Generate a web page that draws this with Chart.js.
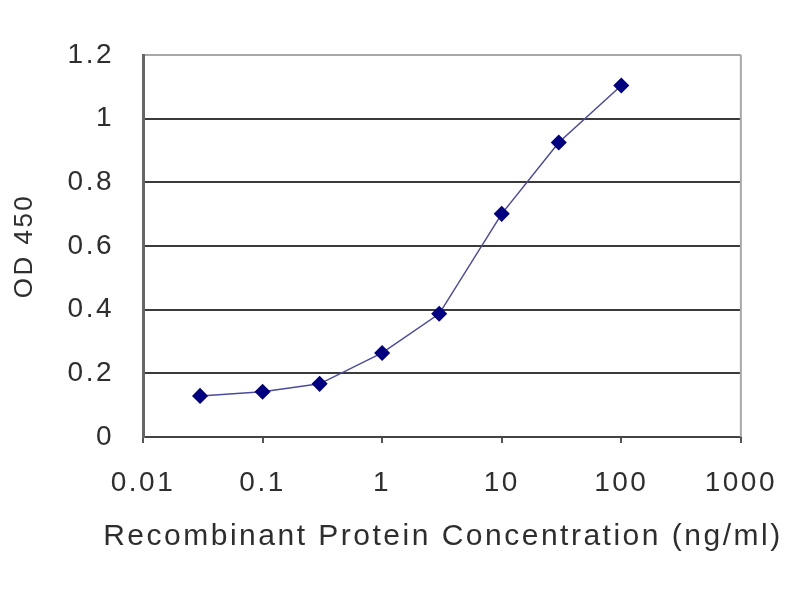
<!DOCTYPE html>
<html>
<head>
<meta charset="utf-8">
<script src="https://cdn.jsdelivr.net/npm/chart.js@4/dist/chart.umd.min.js"></script>
<style>
  html, body { margin: 0; padding: 0; background: #fff; }
  #wrap { width: 800px; height: 600px; }
</style>
</head>
<body>
<div id="wrap"><canvas id="myChart" width="800" height="600"></canvas></div>
<script>
// données
const concentrations = [0.03, 0.1, 0.3, 1, 3, 10, 30, 100];
const odValues = [0.129, 0.142, 0.167, 0.264, 0.387, 0.701, 0.925, 1.104];
const xTicks = [0.01, 0.1, 1, 10, 100, 1000];
const yTicks = [0, 0.2, 0.4, 0.6, 0.8, 1, 1.2];
const xTitle = "Recombinant Protein Concentration (ng/ml)";
const yTitle = "OD 450";

const points = concentrations.map((c, i) => ({ x: c, y: odValues[i] }));
const fontFamily = "Liberation Sans, Arial, sans-serif";

// espacement des lettres (le texte du modèle est un peu étiré)
const spacing = {
  id: "spacing",
  beforeLayout(chart) { chart.ctx.letterSpacing = "2.5px"; },
  beforeDraw(chart) { chart.ctx.letterSpacing = "2.5px"; },
};

// bord droit du cadre + titre de l'axe x (plus large que la zone du graphique)
const frame = {
  id: "frame",
  afterDraw(chart) {
    const { ctx, chartArea } = chart;
    ctx.save();
    ctx.strokeStyle = "#a8a8a8";
    ctx.lineWidth = 2;
    ctx.beginPath();
    ctx.moveTo(chartArea.right, chartArea.top);
    ctx.lineTo(chartArea.right, chartArea.bottom);
    ctx.stroke();

    ctx.fillStyle = "#2e2e2e";
    ctx.font = "30px " + fontFamily;
    ctx.letterSpacing = "2.5px";
    ctx.textAlign = "center";
    ctx.textBaseline = "middle";
    ctx.fillText(xTitle, (chartArea.left + chartArea.right) / 2 + 1, 537);
    ctx.restore();
  },
};

const ctx = document.getElementById("myChart");
new Chart(ctx, {
  type: "scatter",
  data: {
    datasets: [
      {
        data: points,
        showLine: true,
        borderColor: "#4b4b9c",
        borderWidth: 1.5,
        backgroundColor: "#000080",
        pointBackgroundColor: "#000080",
        pointBorderColor: "#000080",
        pointStyle: "rectRot",
        pointRadius: 7,
        tension: 0,
      },
    ],
  },
  options: {
    responsive: false,
    animation: false,
    events: [],
    layout: { padding: { left: 0, top: 55, right: 57, bottom: 0 } },
    plugins: { legend: { display: false }, tooltip: { enabled: false } },
    scales: {
      x: {
        type: "logarithmic",
        min: 0.01,
        max: 1000,
        afterBuildTicks: (scale) => {
          scale.ticks = xTicks.map((v) => ({ value: v }));
        },
        afterFit: (scale) => { scale.height = 163; },
        ticks: {
          color: "#2e2e2e",
          font: { family: fontFamily, size: 28 },
          padding: 23,
          maxRotation: 0,
          autoSkip: false,
          callback: (v) => String(v),
        },
        grid: { drawOnChartArea: false, drawTicks: true, tickLength: 6, color: "#555", lineWidth: 2 },
        border: { color: "#444", width: 2 },
        title: { display: false },
      },
      y: {
        min: 0,
        max: 1.2,
        afterBuildTicks: (scale) => {
          scale.ticks = yTicks.map((v) => ({ value: v }));
        },
        afterFit: (scale) => { scale.width = 143; },
        ticks: {
          color: "#2e2e2e",
          font: { family: fontFamily, size: 28 },
          padding: 29,
          callback: (v) => String(v),
        },
        grid: {
          drawTicks: false,
          lineWidth: 2,
          color: (c) => (c.tick && c.tick.value === 1.2 ? "#a8a8a8" : "#3a3a3a"),
        },
        border: { color: "#666", width: 3 },
        title: {
          display: true,
          text: yTitle,
          color: "#2e2e2e",
          font: { family: fontFamily, size: 26 },
          padding: { top: 9, bottom: 0 },
        },
      },
    },
  },
  plugins: [spacing, frame],
});
</script>
</body>
</html>
